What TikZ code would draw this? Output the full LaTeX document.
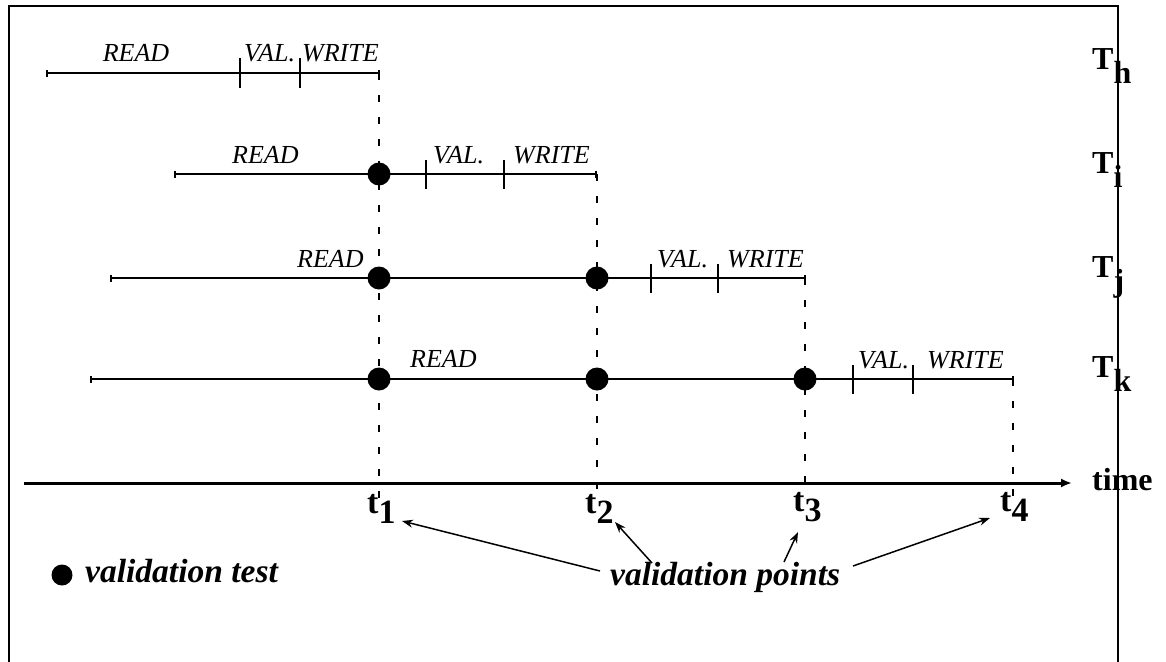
\documentclass[tikz,border=0pt]{standalone}
\usepackage{fontspec}
\setmainfont{Liberation Serif}
\usetikzlibrary{arrows.meta}
\begin{document}
\begin{tikzpicture}[x=1pt,y=-1pt,
  phase/.style={line width=1.6pt},
  dashv/.style={line width=1.6pt, dash pattern=on 7pt off 15pt},
  vdot/.style={circle, fill=black, inner sep=0pt, minimum size=23pt},
  tickm/.style={fill=black, inner sep=0pt, minimum width=1.6pt, minimum height=29pt},
  capm/.style={fill=black, inner sep=0pt, minimum width=1.6pt, minimum height=7pt},
  lab/.style={font=\fontsize{26}{30}\selectfont\itshape, inner sep=0pt, anchor=base west},
  tlab/.style={font=\fontsize{32}{36}\selectfont\bfseries, inner sep=0pt, anchor=base west},
  blab/.style={font=\fontsize{33.5}{38}\selectfont\bfseries\itshape, inner sep=0pt, anchor=base west},
  ptr/.style={line width=1.5pt, -{Stealth[length=11pt,width=8pt]}},
]
\useasboundingbox (0,0) rectangle (1166,661);
\begin{scope}
\clip (0,0) rectangle (1166,661);
\draw[line width=2.5pt] (9,680) -- (9,6) -- (1118,6) -- (1118,680);
\end{scope}

% axis coordinates
\coordinate (x1) at (379,498);
\coordinate (x2) at (597,498);
\coordinate (x3) at (805,498);
\coordinate (x4) at (1013,498);

% dashed verticals
\draw[dashv] (379,73) -- (x1);
\draw[dashv] (597,174) -- (x2);
\draw[dashv] (805,278) -- (x3);
\draw[dashv] (1013,379) -- (x4);

% row h
\node[capm] (h0) at (47,73) {};
\node[tickm] (h1) at (240,73) {};
\node[tickm] (h2) at (300,73) {};
\node[capm] (h3) at (379,73) {};
\draw[phase] (h0.center) -- (h3.center);
\node[lab, anchor=base] (hr) at (136,62) {READ};
\node[lab] (hv) at (244,62) {VAL.};
\node[lab] (hw) at (302,62) {WRITE};

% row i
\node[capm] (i0) at (175,174) {};
\node[tickm] (i2) at (426,174) {};
\node[tickm] (i3) at (504,174) {};
\node[capm] (i4) at (596,174) {};
\draw[phase] (i0.center) -- (i4.center);
\node[vdot] (i1) at (379,174) {};
\node[lab] (ir) at (232,163) {READ};
\node[lab] (iv) at (433,163) {VAL.};
\node[lab] (iw) at (513,163) {WRITE};

% row j
\node[capm] (j0) at (111,278) {};
\node[tickm] (j3) at (651,278) {};
\node[tickm] (j4) at (718,278) {};
\node[capm] (j5) at (805,278) {};
\draw[phase] (j0.center) -- (j5.center);
\node[vdot] (j1) at (379,278) {};
\node[vdot] (j2) at (597,278) {};
\node[lab] (jr) at (297,267) {READ};
\node[lab] (jv) at (657,267) {VAL.};
\node[lab] (jw) at (727,267) {WRITE};

% row k
\node[capm] (k0) at (91,379) {};
\node[tickm] (k4) at (853,379) {};
\node[tickm] (k5) at (913,379) {};
\node[capm] (k6) at (1013,379) {};
\draw[phase] (k0.center) -- (k6.center);
\node[vdot] (k1) at (379,379) {};
\node[vdot] (k2) at (597,379) {};
\node[vdot] (k3) at (805,379) {};
\node[lab] (kr) at (410,367) {READ};
\node[lab] (kv) at (858,368) {VAL.};
\node[lab] (kw) at (927,368) {WRITE};

% time axis
\coordinate (a0) at (24,483);
\coordinate (a1) at (1072,483);
\draw[line width=3pt, -{Latex[length=11pt,width=9pt]}] (a0) -- (a1);
\node[tlab] (time) at (1092,490) {time};

% t labels
\node[tlab, font=\fontsize{34}{38}\selectfont\bfseries] (t1) at (367,513) {t\raisebox{-10pt}{1}};
\node[tlab, font=\fontsize{34}{38}\selectfont\bfseries] (t2) at (585,513) {t\raisebox{-10pt}{2}};
\node[tlab, font=\fontsize{34}{38}\selectfont\bfseries] (t3) at (793,511) {t\raisebox{-10pt}{3}};
\node[tlab, font=\fontsize{34}{38}\selectfont\bfseries] (t4) at (1000,511) {t\raisebox{-10pt}{4}};

% T labels
\node[tlab] (Th) at (1092,69) {T\raisebox{-14pt}{h}};
\node[tlab] (Ti) at (1092,173) {T\raisebox{-14pt}{i}};
\node[tlab] (Tj) at (1092,277) {T\raisebox{-14pt}{j}};
\node[tlab] (Tk) at (1092,377) {T\raisebox{-14pt}{k}};

% legend
\node[vdot, minimum size=21pt] (ld) at (62,575) {};
\node[blab] (lt) at (85,582) {validation test};

% validation points
\node[blab] (vp) at (610,585) {validation points};
\coordinate (s1) at (600,571);
\coordinate (s2) at (652,563);
\coordinate (s3) at (784,562);
\coordinate (s4) at (853,566);
\coordinate (e1) at (402,521);
\coordinate (e2) at (615,522);
\coordinate (e3) at (798,532);
\coordinate (e4) at (990,518);
\draw[ptr] (s1) -- (e1);
\draw[ptr] (s2) -- (e2);
\draw[ptr] (s3) -- (e3);
\draw[ptr] (s4) -- (e4);
\end{tikzpicture}
\end{document}
